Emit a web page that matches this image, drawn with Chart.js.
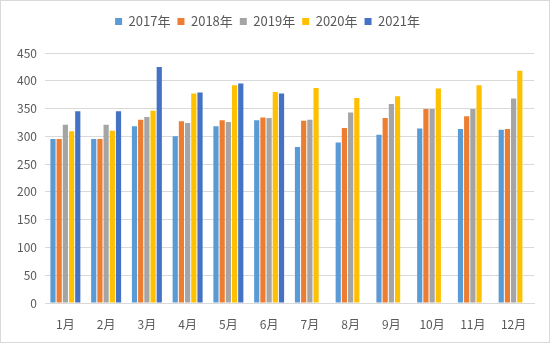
<!DOCTYPE html>
<html>
<head>
<meta charset="utf-8">
<script src="https://cdn.jsdelivr.net/npm/chart.js@4.4.1/dist/chart.umd.min.js"></script>
<style>
  html, body { margin: 0; padding: 0; background: #fff; }
  #wrap { width: 548px; height: 341px; border: 1px solid #d9d9d9; }
</style>
</head>
<body>
<div id="wrap"><canvas id="chart" width="548" height="341"></canvas></div>
<script>
// months on the x axis
const months = ['1月', '2月', '3月', '4月', '5月', '6月', '7月', '8月', '9月', '10月', '11月', '12月'];

// values, one array per year
const y2017 = [295, 295, 318, 300, 318, 329, 281, 289, 303, 314, 313, 312];
const y2018 = [295, 295, 330, 327, 329, 334, 328, 315, 333, 349, 336, 313];
const y2019 = [321, 321, 335, 324, 326, 333, 330, 343, 358, 349, 349, 368];
const y2020 = [309, 310, 346, 377, 392, 380, 387, 369, 372, 386, 392, 418];
const y2021 = [345, 345, 425, 379, 395, 377, null, null, null, null, null, null];

const seriesNames = ['2017年', '2018年', '2019年', '2020年', '2021年'];
const yTicks = [0, 50, 100, 150, 200, 250, 300, 350, 400, 450];

const colors = ['#5B9BD5', '#ED7D31', '#A5A5A5', '#FFC000', '#4472C4'];
const font = "'Noto Sans CJK SC', 'DejaVu Sans', sans-serif";

// push the plot down a bit below the legend
const legendGap = {
  id: 'legendGap',
  beforeInit(chart) {
    const fit = chart.legend.fit;
    chart.legend.fit = function () {
      fit.bind(chart.legend)();
      this.height += 15;
    };
  }
};

const ctx = document.getElementById('chart').getContext('2d');
new Chart(ctx, {
  type: 'bar',
  data: {
    labels: months,
    datasets: [y2017, y2018, y2019, y2020, y2021].map((vals, i) => ({
      label: seriesNames[i],
      data: vals,
      backgroundColor: colors[i],
      borderWidth: 0,
      barPercentage: 0.84,
      categoryPercentage: 0.76
    }))
  },
  plugins: [legendGap],
  options: {
    responsive: false,
    animation: false,
    layout: { padding: { left: 0, right: 15, top: 7, bottom: 0 } },
    plugins: {
      tooltip: { enabled: false },
      legend: {
        position: 'top',
        labels: {
          boxWidth: 7,
          boxHeight: 7,
          padding: 7,
          color: '#595959',
          font: { family: font, size: 13 }
        }
      }
    },
    scales: {
      x: {
        afterFit: s => { s.height = 39; },
        grid: { display: false, drawTicks: false },
        border: { color: '#d9d9d9' },
        ticks: {
          color: '#595959',
          padding: 14,
          font: { family: font, size: 12 }
        }
      },
      y: {
        min: 0,
        max: 450,
        afterBuildTicks: s => { s.ticks = yTicks.map(v => ({ value: v })); },
        afterFit: s => { s.width = 44; },
        grid: { color: '#d9d9d9', drawTicks: false },
        border: { display: false },
        ticks: {
          color: '#595959',
          padding: 8,
          font: { family: font, size: 12 }
        }
      }
    }
  }
});
</script>
</body>
</html>
